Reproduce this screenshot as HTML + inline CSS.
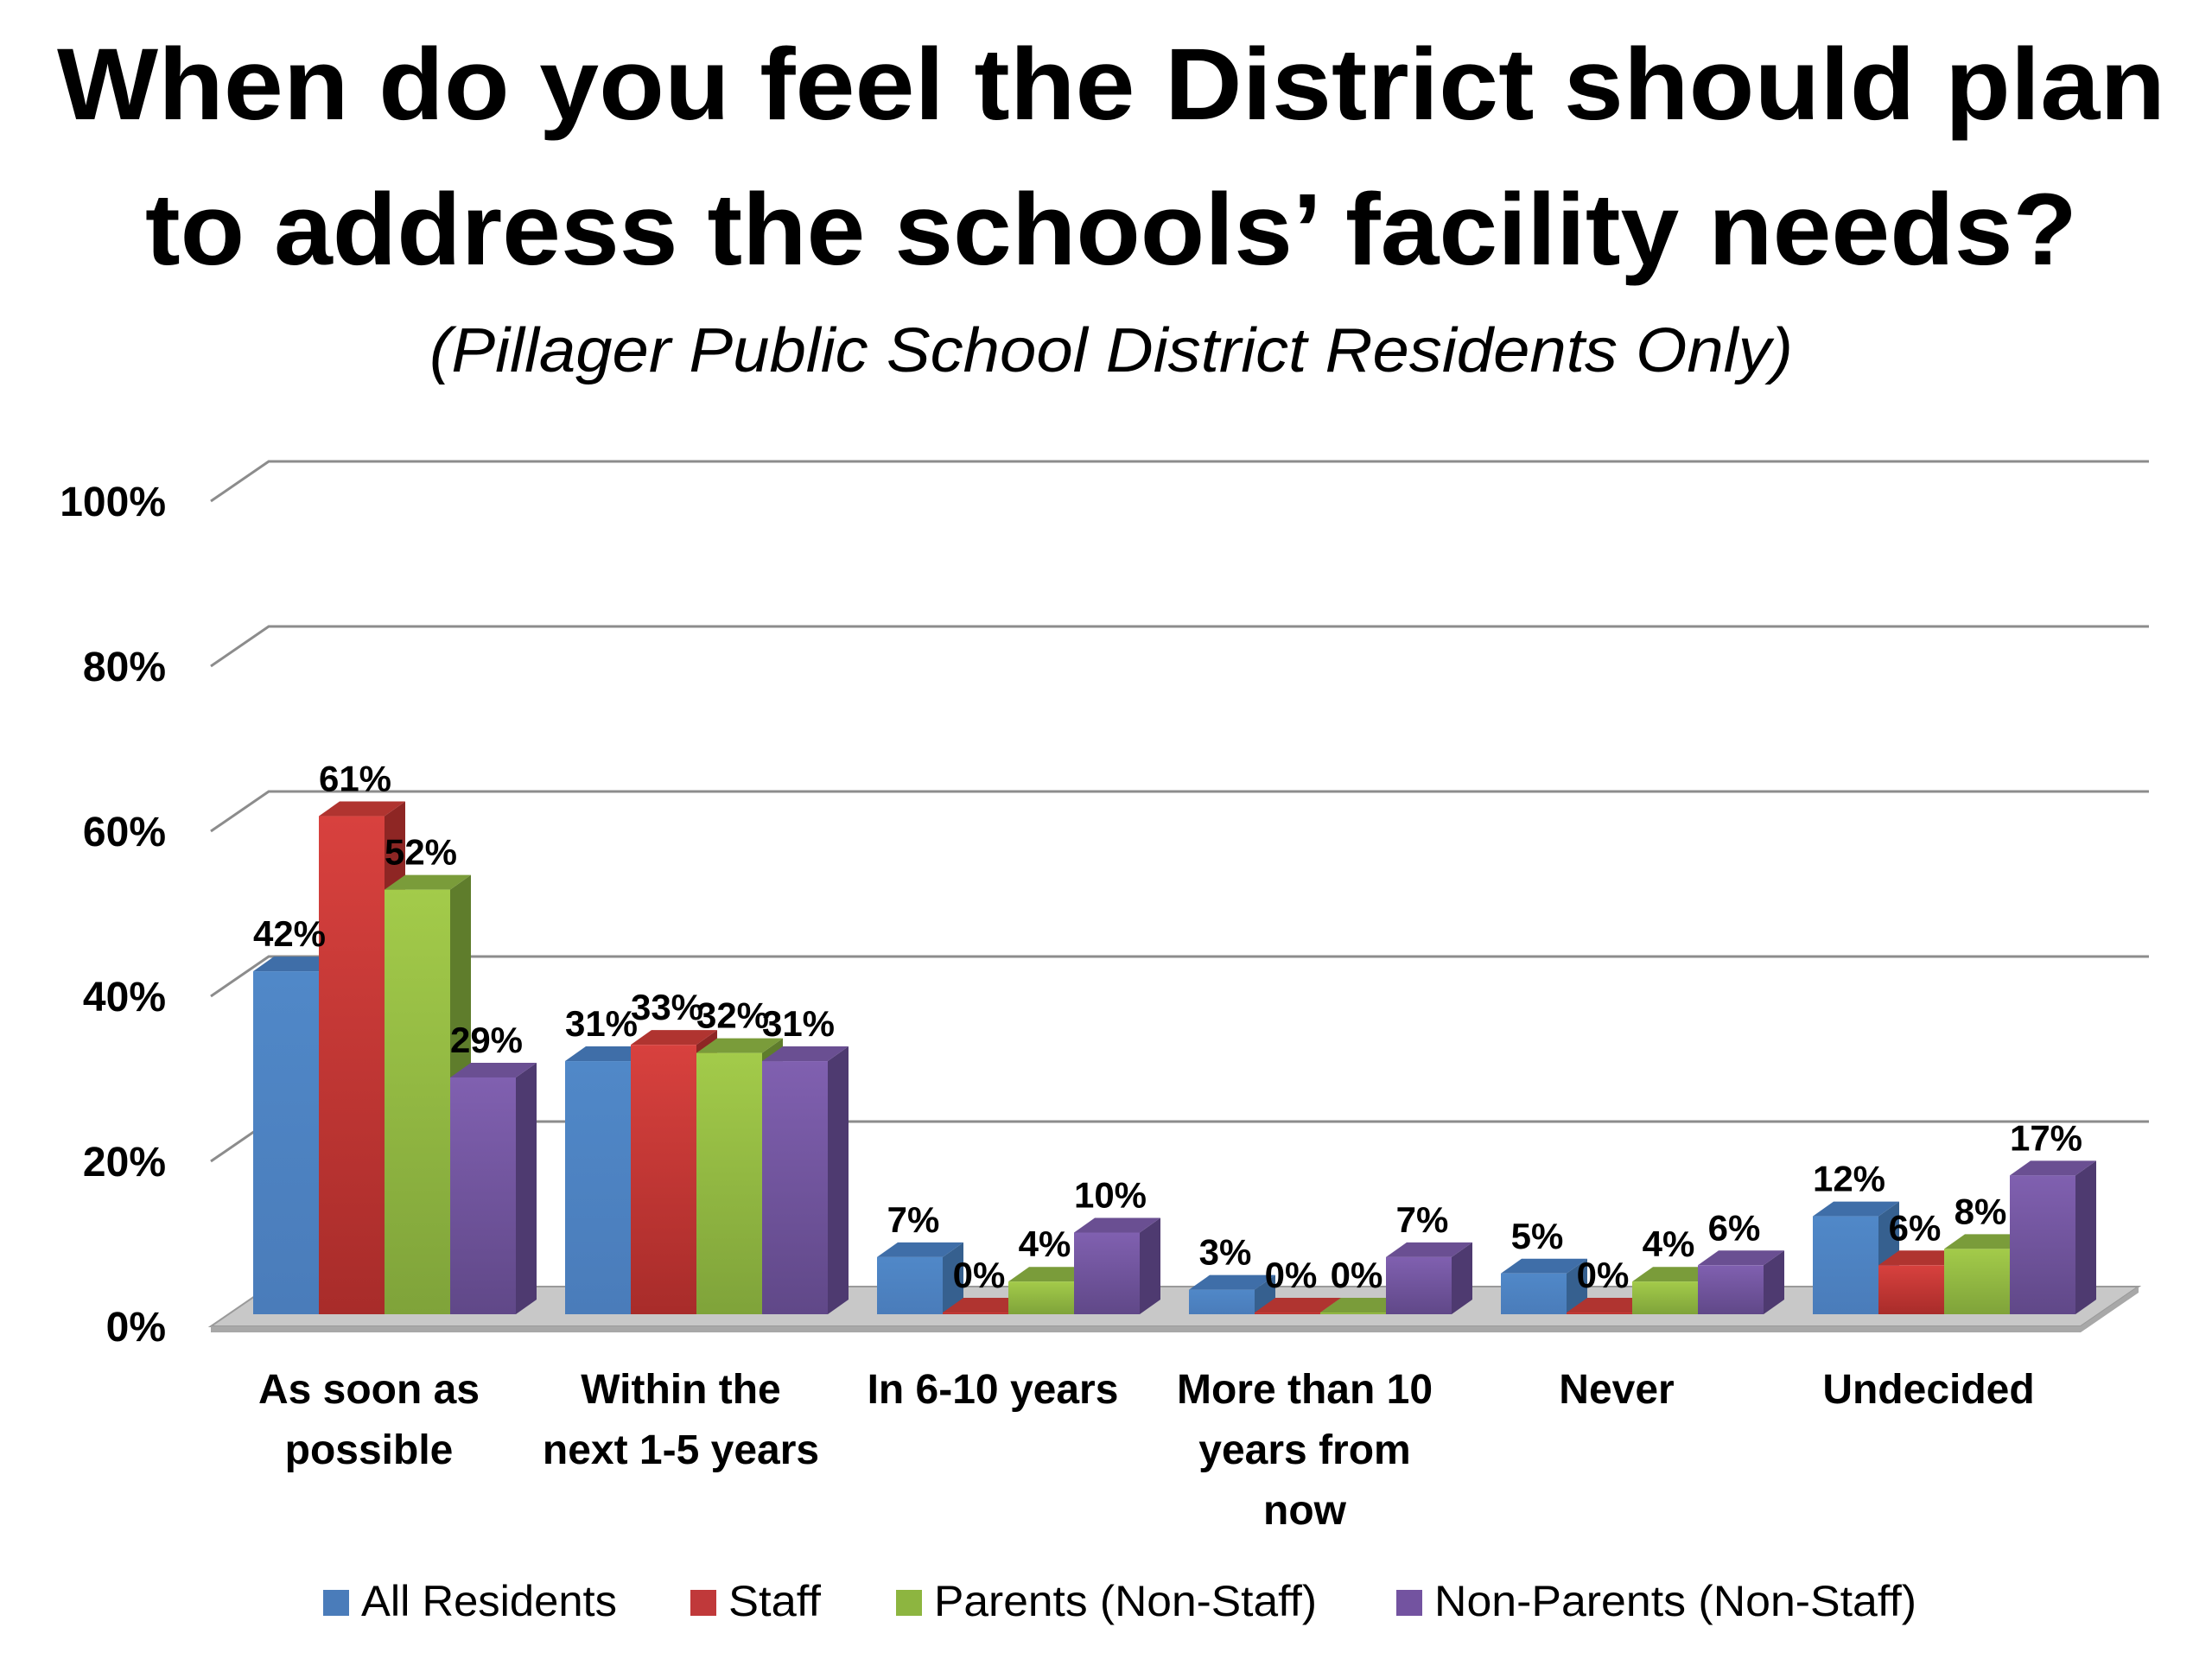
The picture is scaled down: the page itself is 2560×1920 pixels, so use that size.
<!DOCTYPE html>
<html><head><meta charset="utf-8"><style>
html,body{margin:0;padding:0;background:#fff}
svg{display:block}
text{font-family:"Liberation Sans",sans-serif}
</style></head><body>
<svg id="chart" width="2560" height="1920" viewBox="0 0 2560 1920" xmlns="http://www.w3.org/2000/svg">
<defs>
<linearGradient id="gb" x1="0" y1="0" x2="0" y2="1"><stop offset="0" stop-color="#5088c8"/><stop offset="1" stop-color="#4a7cba"/></linearGradient>
<linearGradient id="gr" x1="0" y1="0" x2="0" y2="1"><stop offset="0" stop-color="#d8413e"/><stop offset="1" stop-color="#a82c2a"/></linearGradient>
<linearGradient id="gg" x1="0" y1="0" x2="0" y2="1"><stop offset="0" stop-color="#a3cb4a"/><stop offset="1" stop-color="#7fa33a"/></linearGradient>
<linearGradient id="gp" x1="0" y1="0" x2="0" y2="1"><stop offset="0" stop-color="#8060b0"/><stop offset="1" stop-color="#604888"/></linearGradient>
</defs>
<text x="1286" y="138" text-anchor="middle" font-size="118" font-weight="bold" textLength="2440" lengthAdjust="spacingAndGlyphs">When do you feel the District should plan</text>
<text x="1286" y="306" text-anchor="middle" font-size="118" font-weight="bold" textLength="2236" lengthAdjust="spacingAndGlyphs">to address the schools’ facility needs?</text>
<text x="1286" y="430" text-anchor="middle" font-size="72" font-style="italic" textLength="1578" lengthAdjust="spacingAndGlyphs">(Pillager Public School District Residents Only)</text>
<g id="grid"></g>
<g id="bars"></g>
<g id="labels"></g>
<g id="legend"></g>
</svg>
<script>
const categories=[["As soon as","possible"],["Within the","next 1-5 years"],["In 6-10 years"],["More than 10","years from","now"],["Never"],["Undecided"]];
const seriesNames=["All Residents","Staff","Parents (Non-Staff)","Non-Parents (Non-Staff)"];
const allResidents=[42,31,7,3,5,12];
const staff=[61,33,0,0,0,6];
const parents=[52,32,4,0,4,8];
const nonParents=[29,31,10,7,6,17];
const yTicks=[0,20,40,60,80,100];
const series=[allResidents,staff,parents,nonParents];
const fronts=["url(#gb)","url(#gr)","url(#gg)","url(#gp)"];
const tops=["#3f6ea8","#b03430","#7a9c3a","#6a4f92"];
const sides=["#36608f","#8e2624","#5f7d2c","#4e3a70"];
const legendCols=["#4a7cba","#c0393a","#8db540","#7353a0"];
const NS="http://www.w3.org/2000/svg";
function mk(tag,attrs,parent){const e=document.createElementNS(NS,tag);for(const k in attrs)e.setAttribute(k,attrs[k]);parent.appendChild(e);return e;}
const X0=244,XR=2420,DX=67,DY=-46;
function yAxis(v){return 1535-v*9.55;}
function barY(v){return 1521-v*9.45;}
const groupStart0=293,groupStep=361,barW=76,bdx=24,bdy=-17;
function xBar(g,s){return groupStart0+g*groupStep+s*barW;}
const grid=document.getElementById('grid');
yTicks.forEach(t=>{
  const y=yAxis(t);
  if(t>0){
    const p=mk('polyline',{points:`${X0},${y} ${X0+DX},${y+DY} ${XR+DX},${y+DY}`,fill:'none',stroke:'#8c8c8c','stroke-width':3},grid);
    
    
  }
  const tx=mk('text',{x:192,y:y+17,'text-anchor':'end','font-size':48,'font-weight':'bold'},grid);
  tx.textContent=t+'%';
  
  
});
const y0=yAxis(0);
const FR=XR-12;
const floorTop=mk('polygon',{points:`${X0},${y0} ${X0+DX},${y0+DY} ${FR+DX},${y0+DY} ${FR},${y0}`,fill:'#c8c8c8',stroke:'#9a9a9a','stroke-width':2},grid);


const floorEdge=mk('polygon',{points:`${X0},${y0} ${FR},${y0} ${FR+DX},${y0+DY} ${FR+DX},${y0+DY+7} ${FR},${y0+7} ${X0},${y0+7}`,fill:'#a8a8a8'},grid);


const bars=document.getElementById('bars'),labels=document.getElementById('labels');
categories.forEach((cat,g)=>{
  series.forEach((ser,s)=>{
    const v=ser[g];const x=xBar(g,s);const yt=barY(v);const yb=barY(0);
    const h=Math.max(yb-yt,2);const ytop=yb-h;
    const grp=mk('g',{},bars);
    
    
    mk('polygon',{points:`${x+barW},${ytop} ${x+barW+bdx},${ytop+bdy} ${x+barW+bdx},${yb+bdy} ${x+barW},${yb}`,fill:sides[s]},grp);
    mk('polygon',{points:`${x},${ytop} ${x+bdx},${ytop+bdy} ${x+barW+bdx},${ytop+bdy} ${x+barW},${ytop}`,fill:tops[s]},grp);
    mk('rect',{x:x,y:ytop,width:barW,height:h,fill:fronts[s]},grp);
    const t=mk('text',{x:x+barW/2+4,y:ytop+bdy-12,'text-anchor':'middle','font-size':42,'font-weight':'bold'},labels);
    t.textContent=v+'%';
    
    
  });
  const cx=xBar(g,2)-18;
  cat.forEach((line,i)=>{
    const t=mk('text',{x:cx,y:1624+i*70,'text-anchor':'middle','font-size':48,'font-weight':'bold'},labels);
    t.textContent=line;
    
    
  });
});
const legend=document.getElementById('legend');
const legX=[374,799,1037,1616],legW=[296,107,443,558];
seriesNames.forEach((n,i)=>{
  const gE=mk('g',{},legend);
  
  
  mk('rect',{x:legX[i],y:1840,width:30,height:30,fill:legendCols[i]},gE);
  const t=mk('text',{x:legX[i]+44,y:1870,'font-size':50,textLength:legW[i],lengthAdjust:'spacingAndGlyphs'},gE);
  t.textContent=n;
});
</script>
</body></html>
